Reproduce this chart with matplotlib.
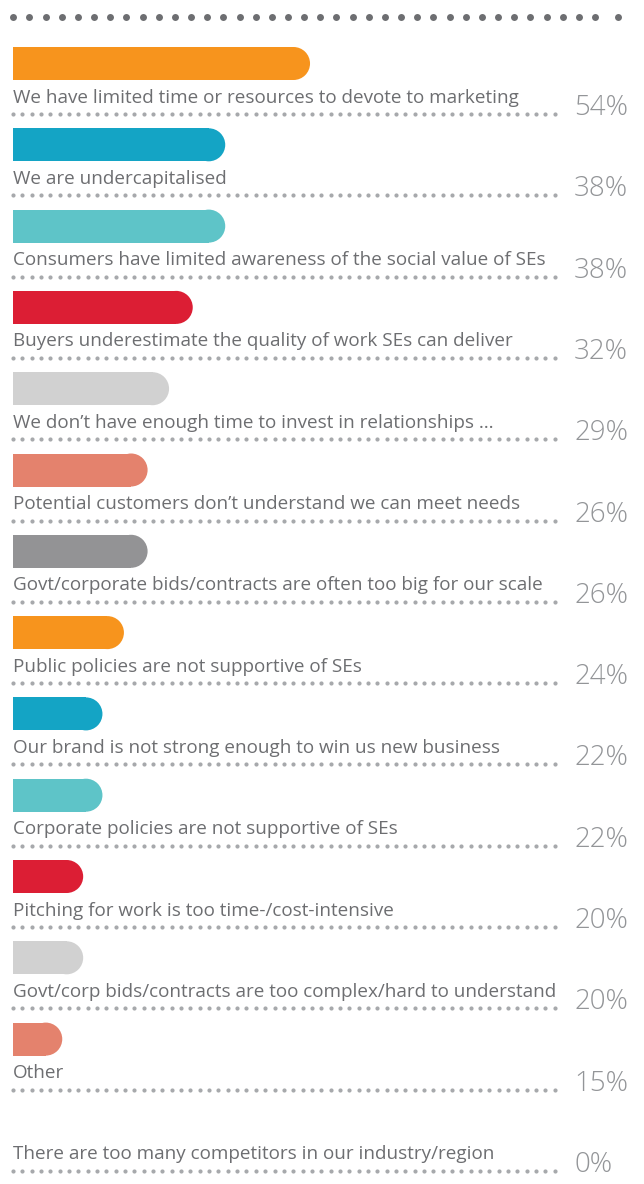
import matplotlib
matplotlib.use("Agg")
import matplotlib.pyplot as plt
from matplotlib.patches import Rectangle, Ellipse
import numpy as np

labels = [
    "We have limited time or resources to devote to marketing",
    "We are undercapitalised",
    "Consumers have limited awareness of the social value of SEs",
    "Buyers underestimate the quality of work SEs can deliver",
    "We don\u2019t have enough time to invest in relationships \u2026",
    "Potential customers don\u2019t understand we can meet needs",
    "Govt/corporate bids/contracts are often too big for our scale",
    "Public policies are not supportive of SEs",
    "Our brand is not strong enough to win us new business",
    "Corporate policies are not supportive of SEs",
    "Pitching for work is too time-/cost-intensive",
    "Govt/corp bids/contracts are too complex/hard to understand",
    "Other",
    "There are too many competitors in our industry/region",
]
pct = [54, 38, 38, 32, 29, 26, 26, 24, 22, 22, 20, 20, 15, 0]
# bar lengths as drawn in the original artwork (it is not to scale with pct)
bar_len = [54, 38.6, 38.6, 32.7, 28.4, 24.5, 24.5, 20.2, 16.3, 16.3, 12.8, 12.8, 9.0, 0]
colors = ["#f7941d", "#14a4c5", "#5ec4c8", "#dc1e34", "#d1d1d1", "#e4826d", "#939395",
          "#f7941d", "#14a4c5", "#5ec4c8", "#dc1e34", "#d1d1d1", "#e4826d", "#ffffff"]

W, H = 644, 1184
PX_X = 5.506   # pixels per x unit
PX_Y = 81.3    # pixels per row
X0, Y0 = 12.7, 47.0

fig = plt.figure(figsize=(W / 100, H / 100), dpi=100)
ax = fig.add_axes([0, 0, 1, 1])
ax.set_xlim(-X0 / PX_X, (W - X0) / PX_X)
ax.set_ylim((H - Y0) / PX_Y, -Y0 / PX_Y)
ax.axis("off")

def px_y(p):
    return p / PX_Y

def px_x(p):
    return p / PX_X

bar_h = px_y(33)
rx = px_x(16.5)

label_font = ["Open Sans", "DejaVu Sans"]
renderer = fig.canvas.get_renderer()

# fit label font size to the widest label of the reference
t = ax.text(0, 0, labels[11], fontsize=12, family=label_font)
lab_fs = 12 * 542 / t.get_window_extent(renderer).width
t.remove()
t = ax.text(0, 0, "54%", fontsize=20, family=label_font, fontweight="light")
pct_fs = 20 * 54 / t.get_window_extent(renderer).width
t.remove()

dot_x = np.linspace(px_x(0.3), px_x(542), 59)

for i, (lab, p, L, c) in enumerate(zip(labels, pct, bar_len, colors)):
    if L > 0:
        ax.add_patch(Rectangle((0, i), L - rx, bar_h, facecolor=c, edgecolor="none"))
        ax.add_patch(Ellipse((L - rx, i + bar_h / 2), 2 * rx, bar_h, facecolor=c, edgecolor="none"))
    ax.text(0, i + px_y(55.5), lab, fontsize=lab_fs, family=label_font,
            color="#6d6e71", va="baseline", ha="left")
    ax.plot(dot_x, np.full_like(dot_x, i + px_y(67)), "o", ms=3.0, color="#a7a9ac", mec="none")
    ax.text(px_x(574 - X0), i + px_y(68), f"{p}%", fontsize=pct_fs, family=label_font,
            fontweight="light", color="#939598", va="baseline", ha="left")

# top dotted rule
top_x = np.append(np.linspace(px_x(0.6), px_x(582.3), 37), px_x(605.3))
ax.plot(top_x, np.full_like(top_x, px_y(17.3 - Y0)), "o", ms=5.0, color="#6d6e71", mec="none")

fig.savefig("out.png", dpi=100)
